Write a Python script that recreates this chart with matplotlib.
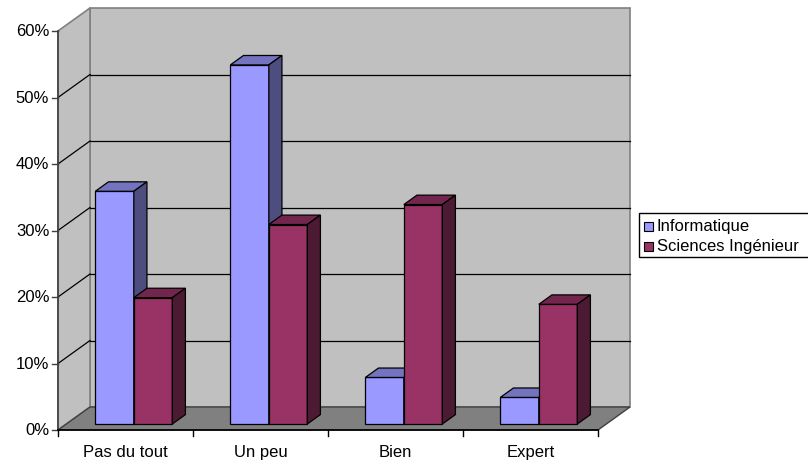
import matplotlib

matplotlib.use("Agg")
import matplotlib.pyplot as plt
from matplotlib.patches import Polygon, Rectangle


categories = ["Pas du tout", "Un peu", "Bien", "Expert"]
series_names = ["Informatique", "Sciences Ingénieur"]
informatique = [0.35, 0.54, 0.07, 0.04]
sciences_ing = [0.19, 0.30, 0.33, 0.18]
y_ticks = [0.0, 0.1, 0.2, 0.3, 0.4, 0.5, 0.6]
y_tick_labels = ["0%", "10%", "20%", "30%", "40%", "50%", "60%"]

# face colours per series: front, top, side
FACE_COLORS = [
    ("#9999ff", "#7373c0", "#4d4d80"),
    ("#993366", "#73264d", "#4d1a33"),
]

WALL = "#c0c0c0"
FLOOR = "#808080"
FONT = "Liberation Sans"
FONT_SIZE = 12

# oblique depth of the plot box, in data units (x: categories, y: share)
DEPTH_X = 32 / 135
DEPTH_Y = 23 / 665

BAR_WIDTH = 0.285
BAR_FRONT = 0.26   # fraction of box depth where bar fronts sit
BAR_DEPTH = 0.41   # fraction of box depth taken by a bar


def poly(ax, pts, face, edge="black", lw=0.9, z=1):
    ax.add_patch(Polygon(pts, closed=True, facecolor=face, edgecolor=edge,
                         linewidth=lw, joinstyle="miter", zorder=z))


def draw_box(ax, n_cat, y_max):
    dx, dy = DEPTH_X, DEPTH_Y
    # back wall, side wall, floor
    poly(ax, [(dx, dy), (n_cat + dx, dy), (n_cat + dx, y_max + dy), (dx, y_max + dy)],
         WALL, edge="#808080", lw=1.2)
    poly(ax, [(0, 0), (dx, dy), (dx, y_max + dy), (0, y_max)], WALL, edge="#808080", lw=1.2)
    poly(ax, [(0, 0), (n_cat, 0), (n_cat + dx, dy), (dx, dy)], FLOOR, edge="#404040", lw=1.0)

    for v in y_ticks[1:-1]:
        ax.plot([dx, n_cat + dx], [v + dy, v + dy], color="black", lw=0.9, zorder=2)
        ax.plot([0, dx], [v, v + dy], color="black", lw=0.9, zorder=2)

    # front value axis
    ax.plot([0, 0], [0, y_max], color="#404040", lw=1.2, zorder=3)
    for v, lab in zip(y_ticks, y_tick_labels):
        ax.plot([-0.045, 0], [v, v], color="#404040", lw=1.0, zorder=3)
        ax.text(-0.065, v, lab, ha="right", va="center", fontsize=FONT_SIZE, family=FONT)

    # category axis
    ax.plot([0, n_cat], [0, 0], color="black", lw=1.2, zorder=3)
    for i in range(n_cat + 1):
        ax.plot([i, i], [0, -0.009], color="black", lw=1.0, zorder=3)
    for i, cat in enumerate(categories):
        ax.text(i + 0.5, -0.032, cat, ha="center", va="center", fontsize=FONT_SIZE, family=FONT)


def draw_bar(ax, x0, value, colors, z):
    front, top, side = colors
    ox, oy = BAR_FRONT * DEPTH_X, BAR_FRONT * DEPTH_Y
    bx, by = BAR_DEPTH * DEPTH_X, BAR_DEPTH * DEPTH_Y
    x0 += ox
    x1 = x0 + BAR_WIDTH
    y0 = oy
    y1 = oy + value
    poly(ax, [(x0, y0), (x1, y0), (x1, y1), (x0, y1)], front, z=z)
    poly(ax, [(x0, y1), (x1, y1), (x1 + bx, y1 + by), (x0 + bx, y1 + by)], top, z=z)
    poly(ax, [(x1, y0), (x1 + bx, y0 + by), (x1 + bx, y1 + by), (x1, y1)], side, z=z)


def main() -> None:
    fig = plt.figure(figsize=(8.08, 4.64), dpi=100)
    ax = fig.add_axes([0, 0, 1, 1])
    ax.set_xlim(-58 / 135, (808 - 58) / 135)
    ax.set_ylim(-33 / 665, 431 / 665)
    ax.axis("off")

    draw_box(ax, len(categories), y_ticks[-1])

    z = 4
    for i in range(len(categories)):
        for s, values in enumerate([informatique, sciences_ing]):
            x0 = i + 0.5 - BAR_WIDTH + s * BAR_WIDTH
            draw_bar(ax, x0, values[i], FACE_COLORS[s], z)
            z += 1

    # legend box, partly cut by the right edge
    fig.patches.append(Rectangle((639 / 808, 1 - 258 / 464), 180 / 808, 44 / 464,
                                 transform=fig.transFigure, facecolor="white",
                                 edgecolor="black", linewidth=1.0))
    for k, name in enumerate(series_names):
        yc = 1 - (227 + 20 * k) / 464
        fig.patches.append(Rectangle((644 / 808, yc - 4.5 / 464), 9 / 808, 9 / 464,
                                     transform=fig.transFigure,
                                     facecolor=FACE_COLORS[k][0], edgecolor="black",
                                     linewidth=0.8))
        fig.text(657 / 808, yc, name, ha="left", va="center", fontsize=FONT_SIZE, family=FONT)

    fig.savefig("out.png", dpi=100)
    plt.close(fig)


if __name__ == "__main__":
    main()
